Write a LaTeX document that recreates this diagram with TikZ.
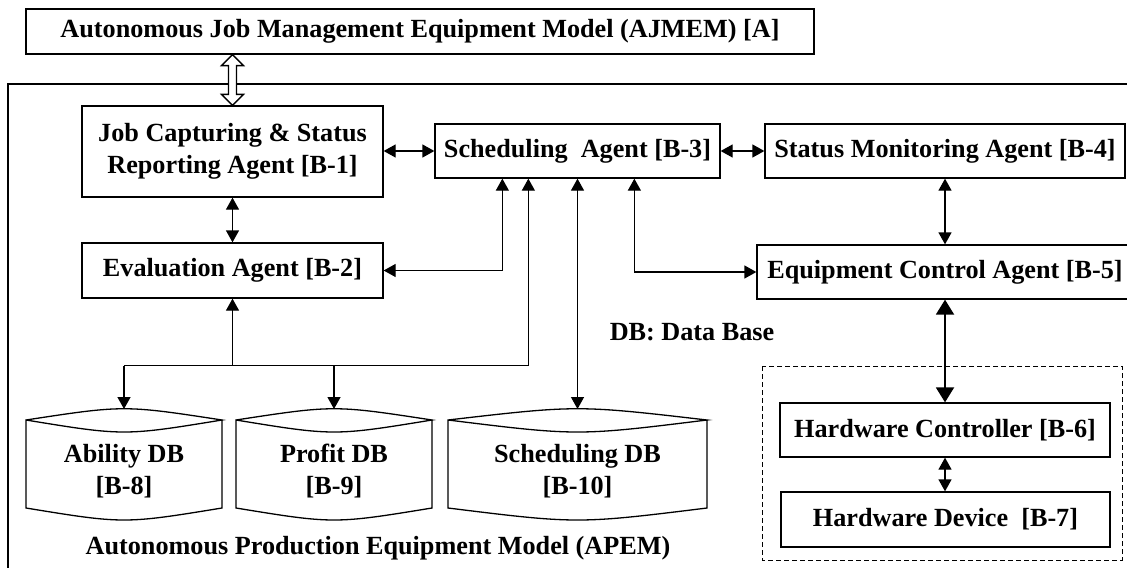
\documentclass[tikz,border=0pt]{standalone}
\usepackage{fontspec}
\setmainfont{Liberation Serif}
\usetikzlibrary{arrows.meta,calc}

\tikzset{
  line/.style={line width=0.65pt, draw=black},
  box/.style={line, rectangle, inner sep=0pt, align=center},
  lbl/.style={inner sep=0pt, align=center},
  dbtext/.style={inner sep=0pt, align=center},
  dbl/.style={line, {Triangle[length=6pt,width=6.5pt]}-{Triangle[length=6pt,width=6.5pt]}},
  arr/.style={line, -{Triangle[length=6pt,width=6.5pt]}},
  heavy/.style={line width=1pt, {Triangle[length=7.5pt,width=9pt]}-{Triangle[length=7.5pt,width=9pt]}},
  hollow/.style={line, fill=white},
  frame/.style={line},
  group/.style={line width=0.5pt, dashed, dash pattern=on 2.5pt off 1.5pt}
}

% database cylinder drawn round a text node: #1 node name, #2 half width (px)
\newcommand\drawdb[2]{%
  \draw[line]
    ([shift={(-#2,-51)}]#1.center)
      .. controls ([shift={(0,-66)}]#1.center) .. ([shift={(#2,-51)}]#1.center)
      .. controls ([shift={(0,-35)}]#1.center) .. ([shift={(-#2,-51)}]#1.center)
    -- ([shift={(-#2,37)}]#1.center)
      .. controls ([shift={(0,53)}]#1.center) .. ([shift={(#2,37)}]#1.center)
    -- ([shift={(#2,-51)}]#1.center);
  \coordinate (#1top) at ([shift={(0,-62)}]#1.center);
}

\begin{document}
\begin{tikzpicture}[x=0.5pt, y=-0.5pt,
  font=\fontsize{13.1pt}{16pt}\selectfont\bfseries]
\useasboundingbox (0,0) rectangle (1127,567);
\clip (0,0) rectangle (1127,567);

% outer model frame (runs past the right and bottom edges)
\draw[frame] (8,84) rectangle (1160,600);

% top-level model
\node[box, minimum width=394pt, minimum height=22.5pt] (a) at (420,31.5)
  {Autonomous Job Management Equipment Model (AJMEM) [A]};

% agents
\node[box, minimum width=150.5pt, minimum height=45.5pt] (b1) at (232.5,151.5)
  {Job Capturing \& Status\\Reporting Agent [B-1]};
\node[box, minimum width=150.5pt, minimum height=27.5pt] (b2) at (232.5,270.5)
  {Evaluation Agent [B-2]};
\node[box, minimum width=142.5pt, minimum height=27pt] (b3) at (577.5,151)
  {Scheduling\ \ Agent [B-3]};
\node[box, minimum width=180pt, minimum height=27pt] (b4) at (945,151)
  {Status Monitoring Agent [B-4]};
\node[box, minimum width=188pt, minimum height=27pt] (b5) at (945,272)
  {Equipment Control Agent [B-5]};

% hardware group
\draw[group] (762,366) rectangle (1122,560);
\node[box, minimum width=165pt, minimum height=27pt] (b6) at (945,430)
  {Hardware Controller [B-6]};
\node[box, minimum width=164.5pt, minimum height=27.5pt] (b7) at (945.5,519.5)
  {Hardware Device\ \ [B-7]};

% databases
\node[dbtext] (abl) at (124,471) {Ability DB\\{}[B-8]};
\node[dbtext] (pft) at (334,471) {Profit DB\\{}[B-9]};
\node[dbtext] (sdb) at (577.5,471) {Scheduling DB\\{}[B-10]};
\drawdb{abl}{98}
\drawdb{pft}{98}
\drawdb{sdb}{129.5}

% free labels
\node[lbl] (legend) at (692,332) {DB: Data Base};
\node[lbl] (apem) at (378,548) {Autonomous Production Equipment Model (APEM)};

% hollow interface arrow between AJMEM and B-1
\coordinate (hT) at (b1.north |- a.south);
\coordinate (hB) at (b1.north);
\draw[hollow] (hT) -- ++(11,11) -- ++(-7,0) -- ($(hB)+(4,-11)$) -- ++(7,0)
  -- (hB) -- ++(-11,-11) -- ++(7,0) -- ($(hT)+(-4,11)$) -- ++(-7,0) -- cycle;

% agent links
\draw[dbl] (b1.east |- b3.west) -- (b3.west);
\draw[dbl] (b3.east) -- (b4.west);
\draw[dbl] (b1.south) -- (b2.north);
\draw[dbl] (b4.south) -- (b4.south |- b5.north);
\draw[heavy] (b6.north |- b5.south) -- (b6.north);
\draw[dbl] (b6.south) -- (b6.south |- b7.north);
\draw[dbl] ($(b3.south west)+(68,0)$) |- (b2.east);
\draw[dbl] ($(b3.south west)+(200,0)$) |- (b5.west);
\draw[dbl] (sdbtop |- b3.south) -- (sdbtop);

% bus to ability / profit databases
\coordinate (busR) at ($(b3.south west)+(94,187)$);
\draw[line] (busR) -- (busR -| abltop);
\draw[arr] (busR) -- ($(b3.south west)+(94,0)$);
\draw[arr] (b2.south |- busR) -- (b2.south);
\draw[arr] (abltop |- busR) -- (abltop);
\draw[arr] (pfttop |- busR) -- (pfttop);
\end{tikzpicture}
\end{document}
